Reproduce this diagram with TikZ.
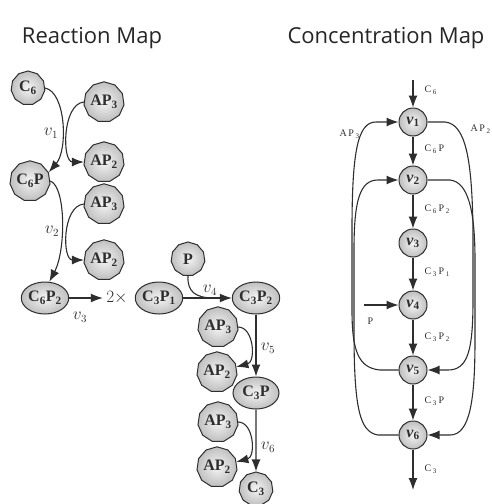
\documentclass[tikz,border=0pt]{standalone}
\usepackage{fontspec}
\setmainfont{Liberation Serif}
\newfontfamily\titlefont{Open Sans}
\usetikzlibrary{shapes.geometric,arrows.meta}
\definecolor{ink}{HTML}{2E2E2E}
\tikzset{
  spec/.style={draw=ink, line width=1pt, regular polygon, regular polygon sides=11, inner sep=0pt, minimum size=34pt, inner color=gray!8, outer color=gray!50, text=ink, font=\fontsize{16}{16}\selectfont\bfseries},
  widespec/.style={spec, ellipse, minimum width=46pt, minimum height=32pt},
  rxn/.style={draw=ink, line width=1pt, circle, inner sep=0pt, minimum size=28pt, inner color=gray!8, outer color=gray!50, text=ink, font=\fontsize{16}{16}\selectfont\bfseries},
  conn/.style={draw=ink, line width=1.1pt, -{Latex[length=12pt,width=9pt]}},
  rate/.style={text=ink, font=\fontsize{16}{16}\selectfont},
  conc/.style={text=ink, anchor=west, font=\fontsize{10}{10}\selectfont},
  title/.style={text=black!85, font=\titlefont\fontsize{22}{26}\selectfont}
}
\begin{document}
\begin{tikzpicture}[x=1pt, y=-1pt]
        \useasboundingbox (0,0) rectangle (491,504);
        \node[title] (t1) at (92,38) {Reaction Map};
        \node[title] (t2) at (386,38) {Concentration Map};
        \node[spec] (c6) at (28,88) {C\textsubscript{6}};
        \node[spec] (ap3a) at (104,102) {AP\textsubscript{3}};
        \node[spec] (ap2a) at (104,162) {AP\textsubscript{2}};
        \node[spec] (c6p) at (30,181) {C\textsubscript{6}P};
        \node[spec] (ap3b) at (104,204) {AP\textsubscript{3}};
        \node[spec] (ap2b) at (104,260) {AP\textsubscript{2}};
        \node[widespec] (c6p2) at (45,298) {C\textsubscript{6}P\textsubscript{2}};
        \node[rate] (two) at (117,298) {$2\times$};
        \node[widespec] (c3p1) at (159,298) {C\textsubscript{3}P\textsubscript{1}};
        \node[spec] (p) at (188,259) {P};
        \node[widespec] (c3p2) at (256,298) {C\textsubscript{3}P\textsubscript{2}};
        \node[spec] (ap3c) at (218,327) {AP\textsubscript{3}};
        \node[spec] (ap2c) at (217,372) {AP\textsubscript{2}};
        \node[widespec] (c3p) at (256,393) {C\textsubscript{3}P};
        \node[spec] (ap3d) at (218,422) {AP\textsubscript{3}};
        \node[spec] (ap2d) at (217,467) {AP\textsubscript{2}};
        \node[spec] (c3) at (256,489) {C\textsubscript{3}};
        \node[rate] (r1) at (51,133) {$v_1$};
        \node[rate] (r2) at (52,231) {$v_2$};
        \node[rate] (r3) at (80,317) {$v_3$};
        \node[rate] (r4) at (210,290) {$v_4$};
        \node[rate] (r5) at (268,348) {$v_5$};
        \node[rate] (r6) at (268,447) {$v_6$};
        \coordinate (j4) at (214,298);
        \draw[conn] (c6.east) .. controls (66,92) and (68,150) .. (c6p.25);
        \draw[conn] (ap3a.west) .. controls (62,104) and (62,162) .. (ap2a.west);
        \draw[conn] (c6p.east) .. controls (66,186) and (66,250) .. (c6p2.75);
        \draw[conn] (ap3b.west) .. controls (62,206) and (62,260) .. (ap2b.west);
        \draw[conn] (c6p2.east) -- (two.west);
        \draw[conn] (c3p1.east) -- (c3p2.west);
        \draw[draw=ink, line width=1.1pt] (p.south) .. controls (187,292) and (196,298) .. (j4);
        \draw[conn] (c3p2.south) -- (c3p.north);
        \draw[conn] (c3p.south) -- (c3.north);
        \draw[conn] (ap3c.east) .. controls (254,327) and (256,362) .. (ap2c.15);
        \draw[conn] (ap3d.east) .. controls (254,422) and (256,457) .. (ap2d.15);
        \foreach \i/\y in {1/122, 2/180, 3/243, 4/305, 5/370, 6/435}
          \node[rxn] (v\i) at (413,\y) {\textit{v}\textsubscript{\i}};
        \coordinate (cin) at (413,80);
        \coordinate (cout) at (413,490);
        \coordinate (pin) at (364,305);
        \draw[conn] (cin) -- (v1);
        \draw[conn] (v1) -- (v2);
        \draw[conn] (v2) -- (v3);
        \draw[conn] (v3) -- (v4);
        \draw[conn] (v4) -- (v5);
        \draw[conn] (v5) -- (v6);
        \draw[conn] (v6) -- (cout);
        \draw[conn] (pin) -- (v4);
        \node[conc] (k0) at (421,90) {C\,\textsubscript{6}};
        \node[conc] (k1) at (421,149) {C\,\textsubscript{6}\,P};
        \node[conc] (k2) at (421,209) {C\,\textsubscript{6}\,P\,\textsubscript{2}};
        \node[conc] (k3) at (421,272) {C\,\textsubscript{3}\,P\,\textsubscript{1}};
        \node[conc] (k4) at (421,337) {C\,\textsubscript{3}\,P\,\textsubscript{2}};
        \node[conc] (k5) at (421,401) {C\,\textsubscript{3}\,P};
        \node[conc] (k6) at (421,469) {C\,\textsubscript{3}};
        \node[conc] (ka) at (336,134) {A\,P\,\textsubscript{3}};
        \node[conc] (kb) at (467,129) {A\,P\,\textsubscript{2}};
        \node[conc] (kp) at (364,321) {P};
        \draw[conn] (v5.west) -- (380,370) .. controls (358,368) and (352,350) .. (352,310) -- (352,230) .. controls (352,150) and (358,122) .. (376,122) -- (v1.west);
        \draw[conn] (v6.west) -- (378,435) .. controls (360,432) and (354,410) .. (354,330) -- (354,250) .. controls (354,200) and (360,180) .. (378,180) -- (v2.west);
        \draw[conn] (v1.east) -- (445,122) .. controls (466,124) and (472,160) .. (473,230) -- (473,300) .. controls (473,350) and (468,370) .. (448,370) -- (v5.east);
        \draw[conn] (v2.east) -- (450,180) .. controls (468,182) and (475,210) .. (475,260) -- (475,340) .. controls (475,400) and (470,435) .. (450,435) -- (v6.east);
      \end{tikzpicture}
\end{document}
